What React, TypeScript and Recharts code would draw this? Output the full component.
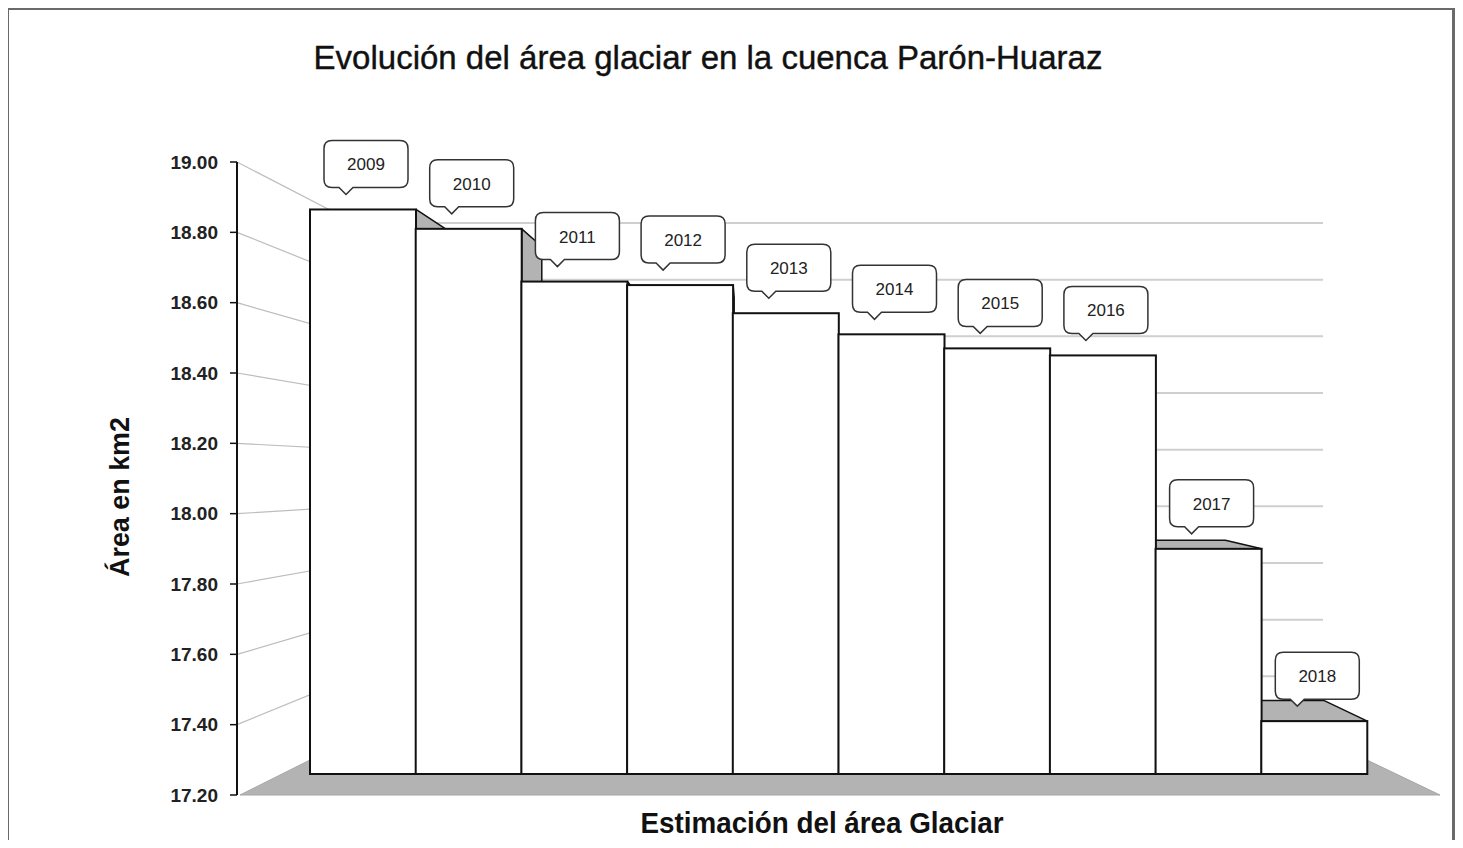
import React from "react";
import {
  BarChart,
  Bar,
  XAxis,
  YAxis,
  CartesianGrid,
  LabelList,
  Label,
} from "recharts";

const years = ["2009", "2010", "2011", "2012", "2013", "2014", "2015", "2016", "2017", "2018"];
const areaKm2 = [18.865, 18.81, 18.66, 18.65, 18.57, 18.51, 18.47, 18.45, 17.9, 17.41];
const yTicks = [17.2, 17.4, 17.6, 17.8, 18.0, 18.2, 18.4, 18.6, 18.8, 19.0];

const data = years.map((year, i) => ({ year, area: areaKm2[i] }));

// the wrapper is pulled over the body margin, so svg coords = page coords
const W = 1463;
const H = 840;
const MARGIN = { top: 162, right: 23, bottom: 0, left: 0 };
const AXIS_W = 237;
const XAXIS_H = 45;
const PLOT_LEFT = MARGIN.left + AXIS_W;
const PLOT_RIGHT = W - MARGIN.right;
const PLOT_BOTTOM = H - MARGIN.bottom - XAXIS_H;
const SIDE_PAD = 73;

// fake 3-D look of the old Excel column chart
const BAR_LIFT = 21;
const FLOOR_DEPTH = 35;
const WALL_X0 = PLOT_LEFT + 118;
const WALL_X1 = PLOT_RIGHT - 117;
const WALL_DROP = 62;
const WALL_SCALE = 510 / 633;
const VX = 745;
const VY = 425;
const DEPTH = 0.09;

const FONT = "'Liberation Sans', Arial, sans-serif";
const GREY = "#b3b3b3";
const FRAME = "#6a6a6a";

const backY = (y: number) => PLOT_BOTTOM - WALL_DROP - (PLOT_BOTTOM - y) * WALL_SCALE;

function WallLine(props: any) {
  const { y1, index } = props;
  if (Math.abs(y1 - PLOT_BOTTOM) < 1) {
    const pts = [
      [PLOT_LEFT + 3, PLOT_BOTTOM],
      [PLOT_RIGHT, PLOT_BOTTOM],
      [PLOT_RIGHT - SIDE_PAD, PLOT_BOTTOM - FLOOR_DEPTH],
      [PLOT_LEFT + SIDE_PAD, PLOT_BOTTOM - FLOOR_DEPTH],
    ];
    return (
      <polygon
        key={`floor-${index}`}
        points={pts.map((p) => p.join(",")).join(" ")}
        fill={GREY}
        stroke="#a6a6a6"
      />
    );
  }
  const yb = backY(y1);
  return (
    <g key={`wall-${index}`}>
      <line x1={PLOT_LEFT} y1={y1} x2={WALL_X0} y2={yb} stroke="#bdbdbd" strokeWidth={1.2} />
      <line x1={WALL_X0} y1={yb} x2={WALL_X1} y2={yb} stroke="#cfcfcf" strokeWidth={2} />
    </g>
  );
}

const toBack = (px: number, py: number, k = DEPTH) =>
  `${px + k * (VX - px)},${py + k * (VY - py)}`;

function DepthFaces(props: any) {
  const { x, y, width } = props;
  const base = PLOT_BOTTOM - BAR_LIFT;
  const faces: string[] = [];
  if (y > VY) {
    faces.push(`${x},${y} ${x + width},${y} ${toBack(x + width, y, 0.07)} ${toBack(x, y, 0.07)}`);
  }
  if (x + width < VX) {
    const sx = x + width;
    faces.push(`${sx},${y} ${sx},${base} ${toBack(sx, base)} ${toBack(sx, y)}`);
  } else if (x > VX) {
    faces.push(`${x},${y} ${x},${base} ${toBack(x, base)} ${toBack(x, y)}`);
  }
  return (
    <g>
      {faces.map((f, i) => (
        <polygon key={i} points={f} fill={GREY} stroke="#111" strokeWidth={1.5} strokeLinejoin="round" />
      ))}
    </g>
  );
}

function FrontFace(props: any) {
  const { x, y, width } = props;
  const base = PLOT_BOTTOM - BAR_LIFT;
  return <rect x={x} y={y} width={width} height={base - y} fill="#fff" stroke="#111" strokeWidth={2} />;
}

function Callout(props: any) {
  const vb = props.viewBox ?? props;
  const left = vb.x + 14;
  const w = 84;
  const h = 47;
  const bottom = vb.y - 22;
  const top = bottom - h;
  const right = left + w;
  const r = 8;
  const tip = left + 22;
  const d = `M${left + r},${top} H${right - r} Q${right},${top} ${right},${top + r} V${bottom - r} Q${right},${bottom} ${right - r},${bottom} H${tip + 7} L${tip},${bottom + 7} L${tip - 7},${bottom} H${left + r} Q${left},${bottom} ${left},${bottom - r} V${top + r} Q${left},${top} ${left + r},${top} Z`;
  return (
    <g>
      <path d={d} fill="#fff" stroke="#333" strokeWidth={1.5} />
      <text
        x={left + w / 2}
        y={top + h / 2 + 1}
        textAnchor="middle"
        dominantBaseline="central"
        fontFamily={FONT}
        fontSize={17}
        fill="#222"
      >
        {props.value}
      </text>
    </g>
  );
}

function YTitle() {
  const cx = 120;
  const cy = 497;
  return (
    <text
      x={cx}
      y={cy}
      transform={`rotate(-90, ${cx}, ${cy})`}
      textAnchor="middle"
      dominantBaseline="central"
      fontFamily={FONT}
      fontWeight={700}
      fontSize={27}
      textLength={160}
      lengthAdjust="spacingAndGlyphs"
      fill="#111"
    >
      Área en km2
    </text>
  );
}

function XTitle() {
  return (
    <text
      x={822}
      y={PLOT_BOTTOM + 38}
      textAnchor="middle"
      fontFamily={FONT}
      fontWeight={700}
      fontSize={30}
      textLength={363}
      lengthAdjust="spacingAndGlyphs"
      fill="#111"
    >
      Estimación del área Glaciar
    </text>
  );
}

export default function App() {
  return (
    <div
      style={{
        position: "relative",
        width: W,
        height: H,
        marginLeft: -8,
        marginTop: -8,
        background: "#fff",
      }}
    >
      <div
        style={{
          position: "absolute",
          left: 0,
          top: 41,
          width: 1416,
          textAlign: "center",
          fontFamily: FONT,
          fontSize: 33,
          lineHeight: 1,
          color: "#111",
          WebkitTextStroke: "0.4px #111",
        }}
      >
        Evolución del área glaciar en la cuenca Parón-Huaraz
      </div>
      <BarChart
        width={W}
        height={H}
        data={data}
        margin={MARGIN}
        barCategoryGap={0}
        barGap={0}
      >
        <CartesianGrid xAxisId="front" vertical={false} horizontal={WallLine} />
        <XAxis
          xAxisId="front"
          dataKey="year"
          padding={{ left: SIDE_PAD, right: SIDE_PAD }}
          tick={false}
          axisLine={false}
          tickLine={false}
          height={XAXIS_H}
        >
          <Label content={XTitle} />
        </XAxis>
        <XAxis xAxisId="back" dataKey="year" padding={{ left: SIDE_PAD, right: SIDE_PAD }} hide />
        <YAxis
          type="number"
          domain={[17.2, 19]}
          ticks={yTicks}
          interval={0}
          width={AXIS_W}
          tickSize={7}
          tickMargin={12}
          axisLine={{ stroke: "#111", strokeWidth: 2 }}
          tickLine={{ stroke: "#111", strokeWidth: 1.5 }}
          tick={{ fill: "#222", fontSize: 19, fontWeight: 700, fontFamily: FONT }}
          tickFormatter={(v: number) => v.toFixed(2)}
        >
          <Label content={YTitle} />
        </YAxis>
        <Bar xAxisId="back" dataKey="area" isAnimationActive={false} shape={DepthFaces} />
        <Bar xAxisId="front" dataKey="area" isAnimationActive={false} shape={FrontFace}>
          <LabelList dataKey="year" content={Callout} />
        </Bar>
      </BarChart>
      {/* picture frame: top, left and right edges */}
      <div style={{ position: "absolute", left: 6, top: 7, width: 1449, height: 3, background: FRAME }} />
      <div style={{ position: "absolute", left: 6, top: 7, width: 3, height: 833, background: FRAME }} />
      <div style={{ position: "absolute", left: 1452, top: 7, width: 3, height: 833, background: FRAME }} />
    </div>
  );
}
